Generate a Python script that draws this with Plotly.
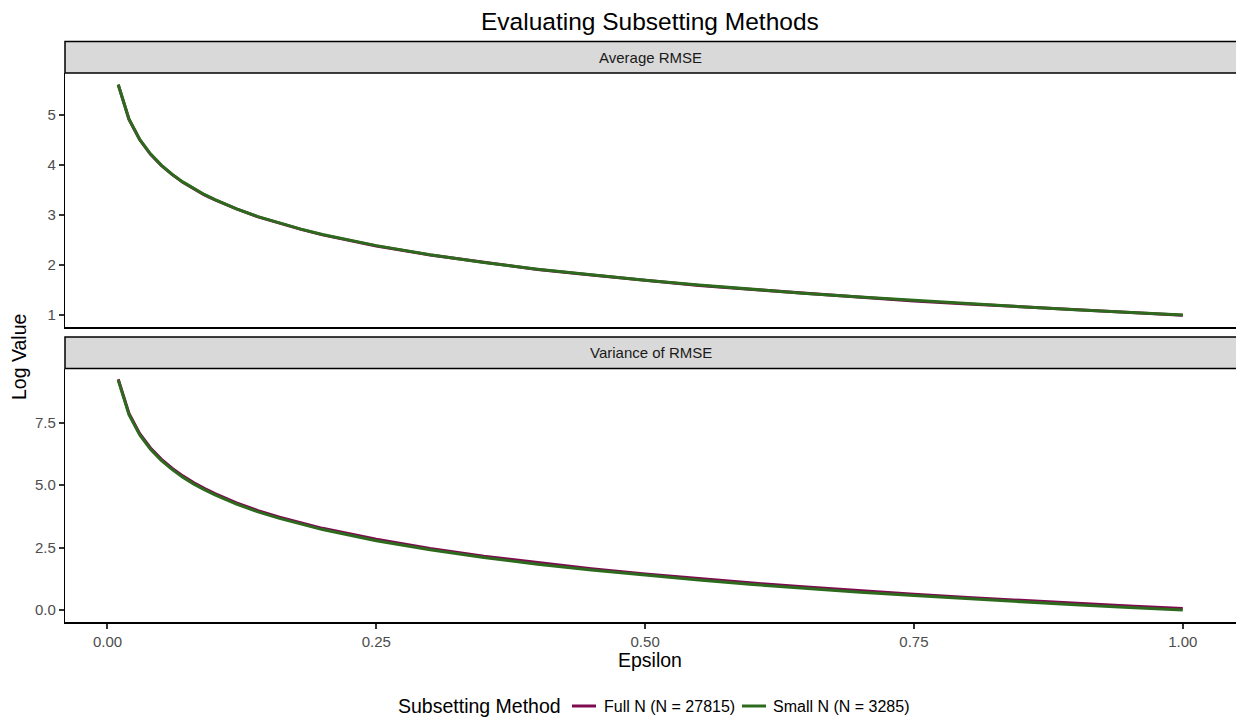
import plotly.graph_objects as go

# ---------------- data ----------------
epsilon = [0.01, 0.02, 0.03, 0.04, 0.05, 0.06, 0.07, 0.08, 0.09, 0.10,
           0.12, 0.14, 0.16, 0.18, 0.20, 0.25, 0.30, 0.35, 0.40, 0.45,
           0.50, 0.55, 0.60, 0.65, 0.70, 0.75, 0.80, 0.85, 0.90, 0.95, 1.00]

avg_rmse_full = [5.60, 4.91, 4.50, 4.21, 3.99, 3.81, 3.65, 3.52, 3.40, 3.30,
                 3.12, 2.96, 2.83, 2.71, 2.60, 2.38, 2.20, 2.05, 1.91, 1.80,
                 1.69, 1.59, 1.51, 1.43, 1.35, 1.28, 1.22, 1.16, 1.10, 1.05, 0.995]
avg_rmse_small = [5.605, 4.912, 4.507, 4.219, 3.996, 3.813, 3.659, 3.526, 3.408, 3.303,
                  3.120, 2.966, 2.833, 2.715, 2.609, 2.386, 2.204, 2.050, 1.916, 1.799,
                  1.693, 1.598, 1.511, 1.431, 1.357, 1.288, 1.223, 1.163, 1.105, 1.051, 1.000]

var_rmse_full = [9.24, 7.87, 7.06, 6.49, 6.04, 5.68, 5.37, 5.10, 4.87, 4.66,
                 4.29, 3.98, 3.72, 3.48, 3.27, 2.83, 2.46, 2.15, 1.89, 1.65,
                 1.44, 1.25, 1.08, 0.92, 0.77, 0.63, 0.50, 0.38, 0.27, 0.16, 0.06]
var_rmse_small = [9.21, 7.82, 7.01, 6.44, 5.99, 5.63, 5.32, 5.05, 4.82, 4.61,
                  4.24, 3.93, 3.67, 3.43, 3.22, 2.77, 2.41, 2.10, 1.83, 1.60,
                  1.39, 1.20, 1.02, 0.86, 0.71, 0.58, 0.45, 0.33, 0.21, 0.10, 0.00]

panels = ["Average RMSE", "Variance of RMSE"]
methods = ["Full N (N = 27815)", "Small N (N = 3285)"]
colors = ["#7E0A50", "#2E6A1E"]

x_tickvals = [0.0, 0.25, 0.5, 0.75, 1.0]
x_ticktext = ["0.00", "0.25", "0.50", "0.75", "1.00"]
y1_tickvals = [1, 2, 3, 4, 5]
y1_ticktext = ["1", "2", "3", "4", "5"]
y2_tickvals = [0.0, 2.5, 5.0, 7.5]
y2_ticktext = ["0.0", "2.5", "5.0", "7.5"]

# ---------------- layout helpers (pixel -> paper) ----------------
W, H = 1236, 717
def px(x):
    return x / W
def py(y):
    return 1 - y / H

FONT = "Liberation Sans, Arial, sans-serif"
LW = 3

fig = go.Figure()

series = [
    ("x", "y", avg_rmse_full, avg_rmse_small),
    ("x2", "y2", var_rmse_full, var_rmse_small),
]
for xa, ya, full, small in series:
    fig.add_trace(go.Scatter(x=epsilon, y=full, mode="lines", xaxis=xa, yaxis=ya,
                             line=dict(color=colors[0], width=LW), name=methods[0],
                             showlegend=False))
    fig.add_trace(go.Scatter(x=epsilon, y=small, mode="lines", xaxis=xa, yaxis=ya,
                             line=dict(color=colors[1], width=LW), name=methods[1],
                             showlegend=False))

panel_left, panel_right = 65, 1236
top_strip = (41.5, 73)
top_panel = (73, 326.5)
bot_strip = (337, 368.5)
bot_panel = (368.5, 621.5)

xrange = [-0.0395, 1.0495]
tickfont = dict(family=FONT, size=15, color="#4D4D4D")

common_x = dict(range=xrange, domain=[px(panel_left), 1.0], showgrid=False, zeroline=False,
                showline=True, linecolor="black", linewidth=2,
                tickvals=x_tickvals, ticktext=x_ticktext)
fig.update_layout(
    xaxis=dict(**common_x, anchor="y", showticklabels=False, ticks=""),
    xaxis2=dict(**common_x, anchor="y2", ticks="outside", ticklen=5, tickwidth=1.5,
                tickcolor="#333333", tickfont=tickfont),
    yaxis=dict(range=[0.77, 5.835], domain=[py(top_panel[1]), py(top_panel[0])],
               anchor="x", showgrid=False, zeroline=False, showline=True,
               linecolor="black", linewidth=1.2, ticks="outside", ticklen=5,
               tickwidth=1.5, tickcolor="#333333", tickvals=y1_tickvals,
               ticktext=y1_ticktext, tickfont=tickfont),
    yaxis2=dict(range=[-0.46, 9.67], domain=[py(bot_panel[1]), py(bot_panel[0])],
                anchor="x2", showgrid=False, zeroline=False, showline=True,
                linecolor="black", linewidth=1.2, ticks="outside", ticklen=5,
                tickwidth=1.5, tickcolor="#333333", tickvals=y2_tickvals,
                ticktext=y2_ticktext, tickfont=tickfont),
    width=W, height=H,
    margin=dict(l=0, r=0, t=0, b=0),
    paper_bgcolor="white", plot_bgcolor="white",
    showlegend=False,
)

shapes = []
annotations = []
for (y0, y1), label in zip([top_strip, bot_strip], panels):
    shapes.append(dict(type="rect", xref="paper", yref="paper",
                       x0=px(panel_left), x1=px(W + 3), y0=py(y1), y1=py(y0),
                       fillcolor="#D9D9D9", line=dict(color="black", width=1.5),
                       layer="above"))
    annotations.append(dict(xref="paper", yref="paper", x=px((panel_left + W) / 2),
                            y=py((y0 + y1) / 2), text=label, showarrow=False,
                            xanchor="center", yanchor="middle",
                            font=dict(family=FONT, size=15, color="#1A1A1A")))

# title
annotations.append(dict(xref="paper", yref="paper", x=px(650), y=py(22),
                        text="Evaluating Subsetting Methods", showarrow=False,
                        xanchor="center", yanchor="middle",
                        font=dict(family=FONT, size=24.5, color="black")))
# axis titles
annotations.append(dict(xref="paper", yref="paper", x=px(650), y=py(660),
                        text="Epsilon", showarrow=False, xanchor="center",
                        yanchor="middle", font=dict(family=FONT, size=19.5, color="black")))
annotations.append(dict(xref="paper", yref="paper", x=px(19), y=py(357),
                        text="Log Value", showarrow=False, textangle=-90,
                        xanchor="center", yanchor="middle",
                        font=dict(family=FONT, size=19.5, color="black")))

# legend (manual, ggplot-like)
leg_y = 706
annotations.append(dict(xref="paper", yref="paper", x=px(396), y=py(leg_y),
                        text="Subsetting Method", showarrow=False, xanchor="left",
                        yanchor="middle", font=dict(family=FONT, size=19.5, color="black")))
key_pos = [(572, 596, 602), (742, 766, 771)]
for (k0, k1, tx), m, c in zip(key_pos, methods, colors):
    shapes.append(dict(type="line", xref="paper", yref="paper", x0=px(k0), x1=px(k1),
                       y0=py(leg_y), y1=py(leg_y), line=dict(color=c, width=LW)))
    annotations.append(dict(xref="paper", yref="paper", x=px(tx), y=py(leg_y),
                            text=m, showarrow=False, xanchor="left", yanchor="middle",
                            font=dict(family=FONT, size=16, color="black")))

fig.update_layout(shapes=shapes, annotations=annotations)

fig.write_html("out.html", config={"displayModeBar": False})
